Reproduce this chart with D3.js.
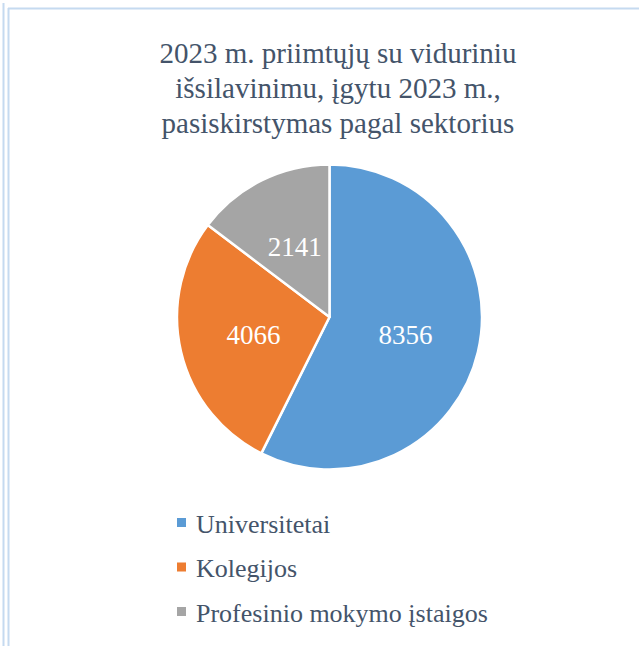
<!DOCTYPE html>
<html>
<head>
<meta charset="utf-8">
<script src="https://cdn.jsdelivr.net/npm/d3@7"></script>
<style>
  html, body { margin: 0; padding: 0; background: #fff; }
  #idMyCanvas { width: 639px; height: 646px; }
  svg text { font-family: "Liberation Serif", "Times New Roman", Tinos, "Nimbus Roman", "DejaVu Serif", serif; }
</style>
</head>
<body>
<div id="idMyCanvas"></div>
<script>
let container_id = "idMyCanvas";

let canvas_xn = 639;
let canvas_yn = 646;

// data
let categories = ["Universitetai", "Kolegijos", "Profesinio mokymo įstaigos"];
let values = [8356, 4066, 2141];
let colors = ["#5b9bd5", "#ed7d31", "#a5a5a5"];
let title_lines = ["2023 m. priimtųjų su viduriniu", "išsilavinimu, įgytu 2023 m.,", "pasiskirstymas pagal sektorius"];

let text_color = "#44546a";
let border_color = "#c5daf0";

let svg_obj = d3.select("#" + container_id)
                .append("svg")
                  .attr("viewBox", [0, 0, canvas_xn, canvas_yn].join(" "))
                  .attr("width", canvas_xn)
                  .attr("height", canvas_yn)
                  .attr("xmlns", "http://www.w3.org/2000/svg");

svg_obj.append("rect")
  .attr("x", 0).attr("y", 0)
  .attr("width", canvas_xn).attr("height", canvas_yn)
  .attr("fill", "white");

// frame lines (left double line + top line)
svg_obj.append("line")
  .attr("x1", 3.5).attr("y1", 3).attr("x2", 3.5).attr("y2", canvas_yn)
  .attr("stroke", border_color).attr("stroke-width", 2);
svg_obj.append("line")
  .attr("x1", 8.5).attr("y1", 8).attr("x2", 8.5).attr("y2", canvas_yn)
  .attr("stroke", border_color).attr("stroke-width", 2);
svg_obj.append("line")
  .attr("x1", 8).attr("y1", 8.5).attr("x2", canvas_xn).attr("y2", 8.5)
  .attr("stroke", border_color).attr("stroke-width", 2);

// title
let title_obj = svg_obj.append("text")
  .attr("text-anchor", "middle")
  .attr("font-size", "29px")
  .attr("fill", text_color);

title_obj.selectAll("tspan")
  .data(title_lines)
  .join("tspan")
    .attr("x", 338)
    .attr("y", (d, i) => 63 + i * 35)
    .text(d => d);

// pie
let cx = 329.5, cy = 317, radius = 152.5;
let pie_gen = d3.pie().sort(null).value(d => d);
let arc_gen = d3.arc().innerRadius(0).outerRadius(radius);
let label_arc = d3.arc().innerRadius(78).outerRadius(78);

let pie_g = svg_obj.append("g").attr("transform", `translate(${cx},${cy})`);
let arcs = pie_gen(values);

pie_g.selectAll("path")
  .data(arcs)
  .join("path")
    .attr("d", arc_gen)
    .attr("fill", (d, i) => colors[i])
    .attr("stroke", "white")
    .attr("stroke-width", 2.5)
    .attr("stroke-linejoin", "round");

pie_g.selectAll("text")
  .data(arcs)
  .join("text")
    .attr("x", d => label_arc.centroid(d)[0])
    .attr("y", d => label_arc.centroid(d)[1] + 9)
    .attr("text-anchor", "middle")
    .attr("font-size", "27px")
    .attr("fill", "white")
    .text(d => d.data);

// legend
let legend_g = svg_obj.append("g");
let legend_items = legend_g.selectAll("g")
  .data(categories)
  .join("g")
    .attr("transform", (d, i) => `translate(177, ${532.5 + i * 44.5})`);

legend_items.append("rect")
  .attr("x", 0).attr("y", -14.5)
  .attr("width", 9).attr("height", 9)
  .attr("fill", (d, i) => colors[i]);

legend_items.append("text")
  .attr("x", 19).attr("y", 0)
  .attr("font-size", "26px")
  .attr("fill", text_color)
  .text(d => d);
</script>
</body>
</html>
